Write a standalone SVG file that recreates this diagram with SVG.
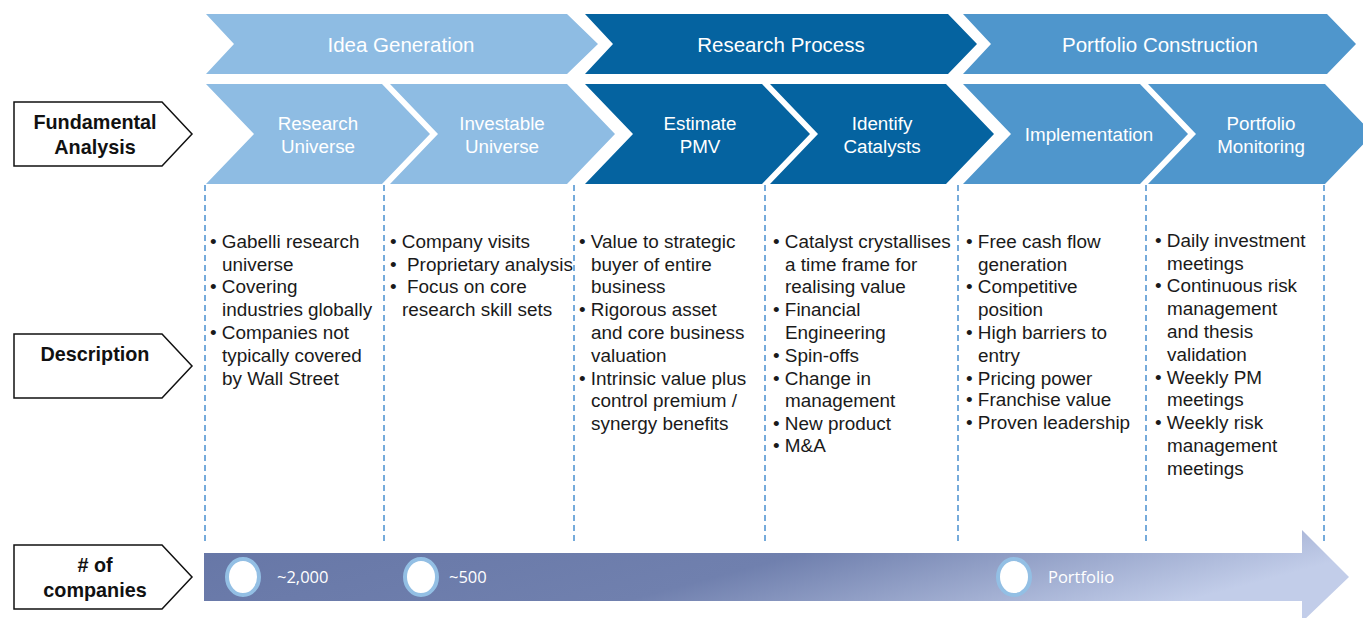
<svg xmlns="http://www.w3.org/2000/svg" width="1363" height="618" viewBox="0 0 1363 618">
<defs>
<style>
.lt{fill:#8EBCE3}.dk{fill:#0563A0}.md{fill:#4F96CC}
.hd{font-family:"Liberation Sans",Arial,sans-serif;font-size:20.5px;fill:#fff;text-anchor:middle}
.sh{font-family:"Liberation Sans",Arial,sans-serif;font-size:18.8px;fill:#fff;text-anchor:middle}
.lb{fill:#fff;stroke:#111;stroke-width:1.5}
.lbt{font-family:"Liberation Sans",Arial,sans-serif;font-size:19.8px;font-weight:bold;fill:#111;text-anchor:middle}
.bt{font-family:"Liberation Sans",Arial,sans-serif;font-size:18.9px;fill:#1a1a1a}
.dash{stroke:#4A90D0;stroke-width:1.5;stroke-dasharray:6,4;fill:none}
.circ{fill:#fff;stroke:#93BFE4;stroke-width:4}
.ct{font-family:"Open Sans","Liberation Sans",sans-serif;font-size:16.5px;fill:#fff}
</style>
<linearGradient id="bar" x1="0" y1="0" x2="1" y2="0.3">
<stop offset="0" stop-color="#6676A6"/>
<stop offset="0.55" stop-color="#7080AE"/>
<stop offset="1" stop-color="#C2CDE9"/>
</linearGradient>
</defs>

<g id="top-row">
<g id="idea-generation"><polygon class="lt" points="206,14 567,14 598,44 567,74 206,74 234,44"/><text class="hd" x="401" y="52">Idea Generation</text></g>
<g id="research-process"><polygon class="dk" points="585,14 948,14 977,44 948,74 585,74 613,44"/><text class="hd" x="781" y="52">Research Process</text></g>
<g id="portfolio-construction"><polygon class="md" points="963,14 1327,14 1356,44 1327,74 963,74 991,44"/><text class="hd" x="1160" y="52">Portfolio Construction</text></g>
</g>

<g id="second-row">
<g id="research-universe"><polygon class="lt" points="206,84 382,84 430,134 382,184 206,184 254,134"/><text class="sh" x="318" y="130">Research</text><text class="sh" x="318" y="153">Universe</text></g>
<g id="investable-universe"><polygon class="lt" points="390,84 567,84 615,134 567,184 390,184 438,134"/><text class="sh" x="502" y="130">Investable</text><text class="sh" x="502" y="153">Universe</text></g>
<g id="estimate-pmv"><polygon class="dk" points="585,84 762,84 810,134 762,184 585,184 633,134"/><text class="sh" x="700" y="130">Estimate</text><text class="sh" x="700" y="153">PMV</text></g>
<g id="identify-catalysts"><polygon class="dk" points="770,84 946,84 994,134 946,184 770,184 818,134"/><text class="sh" x="882" y="130">Identify</text><text class="sh" x="882" y="153">Catalysts</text></g>
<g id="implementation"><polygon class="md" points="963,84 1140,84 1188,134 1140,184 963,184 1011,134"/><text class="sh" x="1089" y="141">Implementation</text></g>
<g id="portfolio-monitoring"><polygon class="md" points="1148,84 1325,84 1373,134 1325,184 1148,184 1196,134"/><text class="sh" x="1261" y="130">Portfolio</text><text class="sh" x="1261" y="153">Monitoring</text></g>
</g>

<g id="connectors">
<line class="dash" x1="205" y1="185" x2="205" y2="545"/>
<line class="dash" x1="384" y1="185" x2="384" y2="545"/>
<line class="dash" x1="574" y1="185" x2="574" y2="545"/>
<line class="dash" x1="765" y1="185" x2="765" y2="545"/>
<line class="dash" x1="958" y1="185" x2="958" y2="545"/>
<line class="dash" x1="1146" y1="185" x2="1146" y2="545"/>
<line class="dash" x1="1324" y1="185" x2="1324" y2="545"/>
</g>

<g id="label-fundamental"><polygon class="lb" points="14,102 162,102 192,134 162,166 14,166"/><text class="lbt" x="95" y="129">Fundamental</text><text class="lbt" x="95" y="154">Analysis</text></g>
<g id="label-description"><polygon class="lb" points="14,334 162,334 192,366 162,398 14,398"/><text class="lbt" x="95" y="361">Description</text></g>
<g id="label-companies"><polygon class="lb" points="14,545 162,545 192,577 162,609 14,609"/><text class="lbt" x="95" y="572">#&#160;of</text><text class="lbt" x="95" y="597">companies</text></g>

<g id="col-research-universe" class="bt">
<text x="210" y="247.5">• Gabelli research</text>
<text x="222" y="270.5">universe</text>
<text x="210" y="293">• Covering</text>
<text x="222" y="315.5">industries globally</text>
<text x="210" y="338.5">• Companies not</text>
<text x="222" y="361.5">typically covered</text>
<text x="222" y="384.5">by Wall Street</text>
</g>
<g id="col-investable-universe" class="bt">
<text x="390" y="247.5">• Company visits</text>
<text x="390" y="270.5">•<tspan x="407">Proprietary analysis</tspan></text>
<text x="390" y="293">•<tspan x="407">Focus on core</tspan></text>
<text x="402" y="315.5">research skill sets</text>
</g>
<g id="col-estimate-pmv" class="bt">
<text x="579" y="247.5">• Value to strategic</text>
<text x="591" y="270.5">buyer of entire</text>
<text x="591" y="293">business</text>
<text x="579" y="315.5">• Rigorous asset</text>
<text x="591" y="338.5">and core business</text>
<text x="591" y="361.5">valuation</text>
<text x="579" y="384.5">• Intrinsic value plus</text>
<text x="591" y="407">control premium /</text>
<text x="591" y="429.5">synergy benefits</text>
</g>
<g id="col-identify-catalysts" class="bt">
<text x="773" y="247.5">• Catalyst crystallises</text>
<text x="785" y="270.5">a time frame for</text>
<text x="785" y="293">realising value</text>
<text x="773" y="315.5">• Financial</text>
<text x="785" y="338.5">Engineering</text>
<text x="773" y="361.5">• Spin-offs</text>
<text x="773" y="384.5">• Change in</text>
<text x="785" y="407">management</text>
<text x="773" y="429.5">• New product</text>
<text x="773" y="452">• M&amp;A</text>
</g>
<g id="col-implementation" class="bt">
<text x="966" y="247.5">• Free cash flow</text>
<text x="978" y="270.5">generation</text>
<text x="966" y="293">• Competitive</text>
<text x="978" y="315.5">position</text>
<text x="966" y="338.5">• High barriers to</text>
<text x="978" y="361.5">entry</text>
<text x="966" y="384.5">• Pricing power</text>
<text x="966" y="406">• Franchise value</text>
<text x="966" y="429">• Proven leadership</text>
</g>
<g id="col-portfolio-monitoring" class="bt">
<text x="1155" y="247">• Daily investment</text>
<text x="1167" y="270">meetings</text>
<text x="1155" y="292">• Continuous risk</text>
<text x="1167" y="315">management</text>
<text x="1167" y="338">and thesis</text>
<text x="1167" y="361">validation</text>
<text x="1155" y="384">• Weekly PM</text>
<text x="1167" y="406">meetings</text>
<text x="1155" y="429">• Weekly risk</text>
<text x="1167" y="452">management</text>
<text x="1167" y="475">meetings</text>
</g>

<g id="companies-arrow">
<polygon fill="url(#bar)" points="204,553 1302,553 1302,530 1349,577 1302,622 1302,601 204,601"/>
<g id="n-2000"><ellipse class="circ" cx="243" cy="577" rx="16" ry="18"/><text class="ct" x="277" y="583">~2,000</text></g>
<g id="n-500"><ellipse class="circ" cx="421" cy="577" rx="16" ry="18"/><text class="ct" x="449" y="583">~500</text></g>
<g id="n-portfolio"><ellipse class="circ" cx="1014" cy="577" rx="16" ry="18"/><text class="ct" x="1048" y="583">Portfolio</text></g>
</g>
</svg>
